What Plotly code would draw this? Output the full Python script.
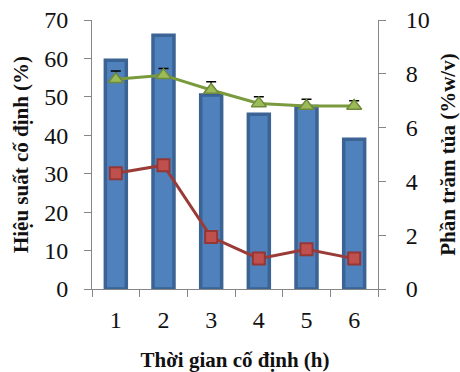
import plotly.graph_objects as go

hours = ["1", "2", "3", "4", "5", "6"]
efficiency = [59.5, 66, 50.5, 45.5, 47.5, 39]          # Hiệu suất cố định (%) - bars
precip_green = [7.8, 7.95, 7.4, 6.9, 6.8, 6.8]          # Phần trăm tủa (%w/v)
precip_green_err = [0.3, 0.25, 0.3, 0.25, 0.25, 0.2]
precip_green_err_minus = [0, 0, 0, 0, 0, 0]
precip_red = [4.3, 4.6, 1.93, 1.13, 1.48, 1.13]

serif = "Liberation Serif"

fig = go.Figure()
fig.add_trace(go.Bar(
    x=hours, y=efficiency, width=0.44,
    marker=dict(color="#4f81bd", line=dict(color="#3b6393", width=3.5)),
    yaxis="y", showlegend=False,
))
fig.add_trace(go.Scatter(
    x=hours, y=precip_red, mode="lines+markers", yaxis="y2",
    line=dict(color="#9a3b38", width=3),
    marker=dict(symbol="square", size=12, color="#c0504d",
                line=dict(color="#953735", width=2)),
    showlegend=False,
))
fig.add_trace(go.Scatter(
    x=hours, y=precip_green, mode="lines+markers", yaxis="y2",
    line=dict(color="#7a9a3e", width=3),
    marker=dict(symbol="triangle-up", size=13, color="#9bbb59",
                line=dict(color="#6f8a3a", width=1.5)),
    error_y=dict(type="data", symmetric=False, array=precip_green_err,
                 arrayminus=precip_green_err_minus, color="black",
                 thickness=1.5, width=5),
    showlegend=False,
))

def axis_common():
    return dict(showgrid=False, zeroline=False, showline=True, automargin=False,
                linecolor="#868686", linewidth=1, ticks="outside",
                tickcolor="#868686", ticklen=7,
                tickfont=dict(family=serif, size=24, color="#111111"))

title_font = dict(family=serif, size=21, color="#111111")

fig.update_layout(
    width=460, height=372,
    margin=dict(l=92, r=82, t=20, b=83),
    paper_bgcolor="white", plot_bgcolor="white",
    xaxis=dict(type="category", tickson="boundaries", ticklabelstandoff=9,
               **axis_common(),
               title=dict(text="<b>Thời gian cố định (h)</b>",
                          font=title_font, standoff=20)),
    yaxis=dict(range=[0, 70], dtick=10, ticklabelstandoff=11,
               **axis_common(),
               title=dict(text="<b>Hiệu suất cố định (%)</b>",
                          font=title_font, standoff=9)),
    yaxis2=dict(range=[0, 10], dtick=2, overlaying="y", side="right",
                ticklabelstandoff=15, **axis_common(),
                title=dict(text="<b>Phần trăm tủa (%w/v)</b>",
                           font=title_font, standoff=11)),
)

fig.write_html("out.html")
